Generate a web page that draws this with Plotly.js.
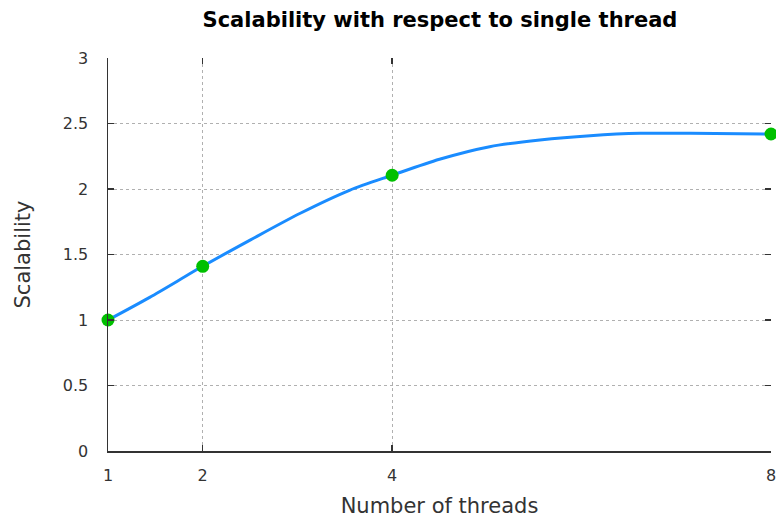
<!DOCTYPE html>
<html>
<head>
<meta charset="utf-8">
<script src="https://cdn.plot.ly/plotly-3.0.1.min.js"></script>
<style>html,body{margin:0;padding:0;background:#fff;}#chart{width:776px;height:518px;}</style>
</head>
<body>
<div id="chart"></div>
<script>
// Measured points
const threads = [1, 2, 4, 8];
const scalability = [1, 1.41, 2.105, 2.42];
// Smoothed curve
const curveX = [1, 1.44, 2, 2.5, 3.03, 3.55, 4, 4.5, 5.03, 5.56, 6.09, 6.62, 7.15, 8];
const curveY = [1, 1.173, 1.41, 1.61, 1.815, 1.99, 2.105, 2.227, 2.323, 2.374, 2.407, 2.425, 2.425, 2.42];
const xTicks = [1, 2, 4, 8];
const xTickText = ["1", "2", "4", "8"];
const yTicks = [0, 0.5, 1, 1.5, 2, 2.5, 3];
const yTickText = ["0", "0.5", "1", "1.5", "2", "2.5", "3"];

const font = "DejaVu Sans, sans-serif";
const traces = [
  {x: curveX, y: curveY, mode: "lines", line: {color: "#1a8cff", width: 3, shape: "spline", smoothing: 0.8}, hoverinfo: "skip", cliponaxis: false},
  {x: threads, y: scalability, mode: "markers", marker: {color: "#00c000", size: 13}, cliponaxis: false},
  {x: [1], y: [0], xaxis: "x2", yaxis: "y2", mode: "markers", marker: {opacity: 0}, hoverinfo: "skip"}
];
const layout = {
  width: 776, height: 518,
  margin: {l: 108, r: 5, t: 58, b: 67},
  paper_bgcolor: "#fff", plot_bgcolor: "#fff",
  showlegend: false,
  font: {family: font, color: "#333"},
  title: {text: "<b>Scalability with respect to single thread</b>", font: {family: font, size: 21, color: "#000"}, x: 0.567, xanchor: "center", y: 0.962, yanchor: "middle"},
  xaxis: {
    range: [1, 8], tickvals: xTicks, ticktext: xTickText,
    showgrid: true, gridcolor: "#b0b0b0", griddash: "dot", gridwidth: 1,
    zeroline: false, showline: true, linecolor: "#333", linewidth: 1.5,
    ticks: "inside", ticklen: 6, tickcolor: "#333", tickwidth: 1.5,
    tickfont: {size: 16, color: "#333"}, ticklabelstandoff: 9, ticklabeloverflow: "allow",
    title: {text: "Number of threads", font: {size: 21, color: "#333"}, standoff: 14}
  },
  yaxis: {
    range: [0, 3], tickvals: yTicks, ticktext: yTickText,
    showgrid: true, gridcolor: "#b0b0b0", griddash: "dot", gridwidth: 1,
    zeroline: false, showline: true, linecolor: "#333", linewidth: 1.5,
    ticks: "inside", ticklen: 6, tickcolor: "#333", tickwidth: 1.5,
    tickfont: {size: 16, color: "#333"}, ticklabelstandoff: 15, ticklabeloverflow: "allow",
    title: {text: "Scalability", font: {size: 21, color: "#333"}, standoff: 26}
  },
  xaxis2: {
    overlaying: "x", side: "top", range: [1, 8], tickvals: xTicks,
    showticklabels: false, showgrid: false, zeroline: false, showline: false,
    ticks: "inside", ticklen: 6, tickcolor: "#333", tickwidth: 1.5
  },
  yaxis2: {
    overlaying: "y", side: "right", range: [0, 3], tickvals: yTicks,
    showticklabels: false, showgrid: false, zeroline: false, showline: false,
    ticks: "inside", ticklen: 6, tickcolor: "#333", tickwidth: 1.5
  }
};
Plotly.newPlot("chart", traces, layout, {staticPlot: true});
</script>
</body>
</html>
